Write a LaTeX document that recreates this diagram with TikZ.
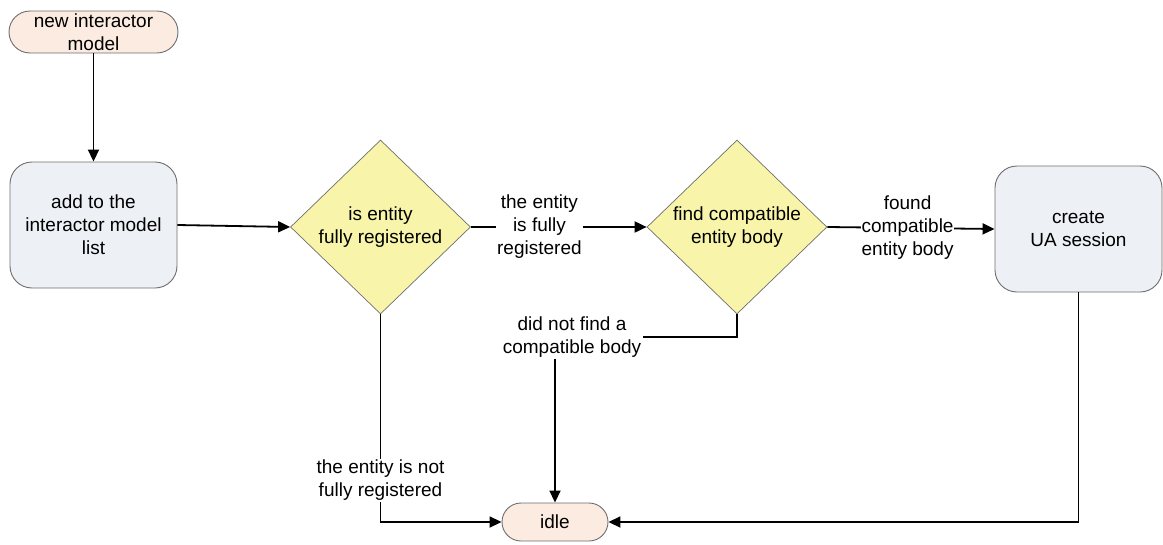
\documentclass[tikz,border=0pt]{standalone}
\usepackage{fontspec}
\setmainfont{Liberation Sans}
\usetikzlibrary{shapes.geometric,arrows.meta}
\definecolor{termfill}{HTML}{FBEBE0}
\definecolor{procfill}{HTML}{EDF0F5}
\definecolor{decfill}{HTML}{F8F5AA}
\definecolor{shapeline}{HTML}{6E6E6E}
\tikzset{
  txt/.style={font=\fontsize{19}{23}\selectfont, align=center},
  terminal/.style={txt, draw=shapeline, line width=0.9pt, fill=termfill, inner sep=0pt},
  process/.style={txt, draw=shapeline, line width=0.9pt, fill=procfill, rounded corners=22pt,
    minimum width=167pt, minimum height=126pt, inner sep=0pt},
  decision/.style={txt, draw=shapeline, line width=0.7pt, fill=decfill, diamond, aspect=1,
    minimum width=180pt, minimum height=174pt, inner sep=0pt},
  flow/.style={line width=1.8pt, -{Triangle[length=12pt,width=11pt]}},
  edgelabel/.style={txt, fill=white, inner sep=1.5pt},
}
\begin{document}
\begin{tikzpicture}[x=1pt,y=-1pt]
\useasboundingbox (0,0) rectangle (1163,544);

% shapes
\node[terminal, rounded corners=21pt, minimum width=169pt, minimum height=42pt] (start) at (93.5,32) {new interactor\\model};
\node[process] (add) at (93.5,225) {add to the\\interactor model\\list};
\node[decision] (reg) at (380.5,227) {is entity\\fully registered};
\node[decision] (body) at (737,227) {find compatible\\entity body};
\node[process] (ua) at (1078.5,229) {create\\UA session};
\node[terminal, rounded corners=19pt, minimum width=106pt, minimum height=38pt] (idle) at (555,522) {idle};

% connectors
\draw[flow] (start) -- (add);
\draw[flow] (add.east) -- (reg.west);
\draw[flow] (reg.east) -- node[edgelabel, pos=0.39] (lreg) {the entity\\is fully\\registered} (body.west);
\draw[flow] (body.east) -- node[edgelabel, inner sep=0.5pt, pos=0.48] (lfound) {found\\compatible\\entity body} (ua.west);
\draw[flow] (ua.south) |- (idle.east);
\draw[flow] (reg.south) |- node[edgelabel, pos=0.4] (lnotreg) {the entity is not\\fully registered} (idle.west);
\coordinate (bend) at ([yshift=-23pt]body.south);
\draw[flow] (body.south) -- (bend) -| (idle.north);
\node[edgelabel] (lnobody) at (572,337) {did not find a\\compatible body};
\end{tikzpicture}
\end{document}
